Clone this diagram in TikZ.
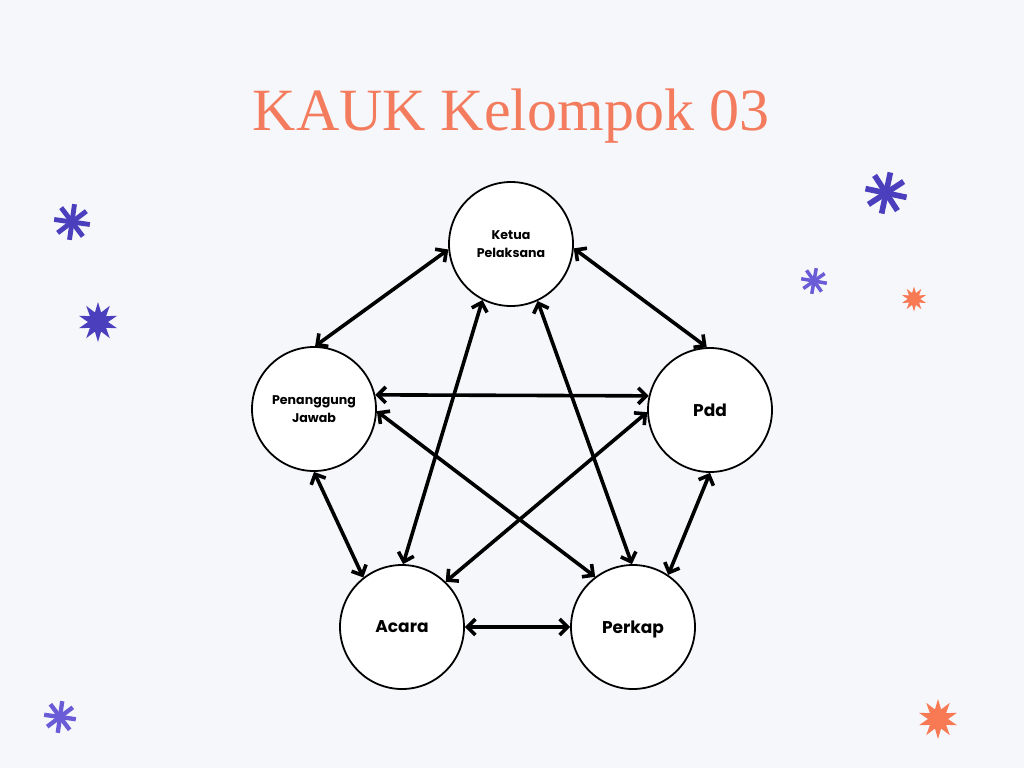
\documentclass[tikz,border=0pt]{standalone}
\usepackage{fontspec}
\setmainfont{Poppins}
\newfontfamily\titlefont{Liberation Serif}
\usetikzlibrary{arrows.meta,shapes.geometric}
\definecolor{bgcol}{HTML}{F6F7FB}
\definecolor{salmon}{HTML}{F47C5E}
\definecolor{indigo}{HTML}{4B3FBE}
\definecolor{lindigo}{HTML}{6A5CD6}
\definecolor{sorange}{HTML}{F77A55}
\tikzset{
  person/.style={circle, draw=black, line width=1.8pt, fill=white, minimum size=124pt, inner sep=0pt, align=center, font=\bfseries},
  smalltxt/.style={font=\fontsize{12.6}{18}\selectfont\bfseries},
  bigtxt/.style={font=\fontsize{17}{18}\selectfont\bfseries, text depth=0pt},
  link/.style={line width=3.6pt, {Straight Barb[length=8pt,width=16pt]}-{Straight Barb[length=8pt,width=16pt]}},
  sparkle/.style={star, star points=10, star point ratio=2, inner sep=0pt},
}
\newcommand{\asterisk}[5]{% x, y, radius, rotation, colour
  \foreach \a in {0,45,90,135}{
    \draw[#5, line width=0.27*#3pt] (#1,#2) ++(\a+#4:#3) -- ++(\a+#4+180:2*#3);
  }
}
\begin{document}
\begin{tikzpicture}[x=1pt,y=-1pt]
\fill[bgcol] (0,0) rectangle (1024,768);
\useasboundingbox (0,0) rectangle (1024,768);

\node[text=salmon, font=\titlefont\fontsize{60}{62}\selectfont] (title) at (511,116) {KAUK Kelompok 03};

\node[person, smalltxt] (ketua) at (511,244) {Ketua\\Pelaksana};
\node[person, smalltxt] (pj) at (314,409) {Penanggung\\Jawab};
\node[person, bigtxt] (pdd) at (710,410) {Pdd};
\node[person, bigtxt] (acara) at (402,627) {Acara};
\node[person, bigtxt] (perkap) at (633,627) {Perkap};

\draw[link] (ketua.185) -- (pj.89);
\draw[link] (ketua.356) -- (pdd.93);
\draw[link] (pj.13) -- (pdd.167);
\draw[link] (ketua.243) -- (acara.89);
\draw[link] (ketua.295) -- (perkap.91);
\draw[link] (pj.358) -- (perkap.127);
\draw[link] (pdd.182) -- (acara.46);
\draw[link] (pj.270) -- (acara.128);
\draw[link] (pdd.270) -- (perkap.56);
\draw[link] (acara.0) -- (perkap.180);

% decorations
\asterisk{72}{222}{18}{8}{indigo}
\asterisk{886}{193}{21}{12}{indigo}
\asterisk{814}{281}{13}{10}{lindigo}
\asterisk{60}{717}{16}{8}{lindigo}
\node[sparkle, fill=indigo, minimum size=40pt] (s1) at (98,322) {};
\node[sparkle, fill=sorange, minimum size=25pt] (s2) at (914,299) {};
\node[sparkle, fill=sorange, minimum size=40pt] (s3) at (938,719) {};
\end{tikzpicture}
\end{document}
